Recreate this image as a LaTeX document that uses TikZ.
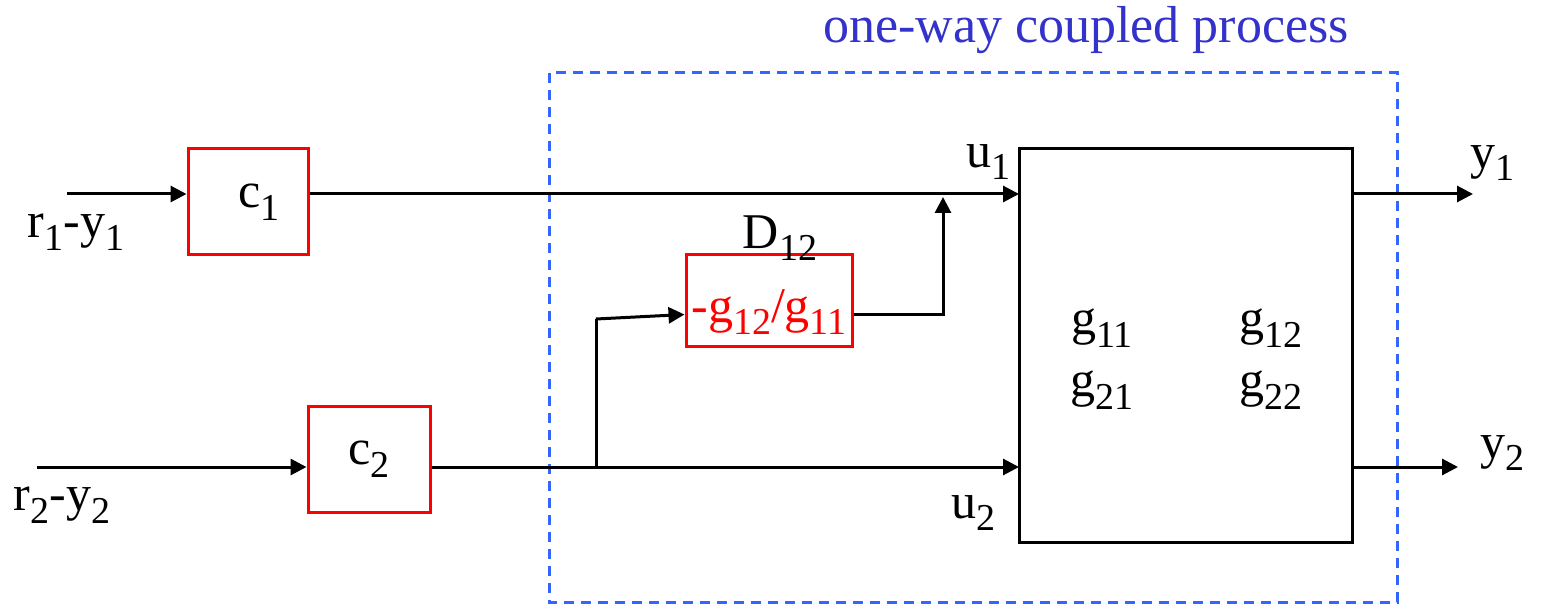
\documentclass[tikz,border=0pt]{standalone}
\usepackage{fontspec}
\setmainfont{Liberation Serif}
\usetikzlibrary{arrows.meta}
\definecolor{boxred}{HTML}{FF0000}
\definecolor{dashblue}{HTML}{3366FF}
\definecolor{titleblue}{HTML}{3333CC}
\newcommand{\sbx}[1]{\raisebox{-0.25em}{\fontsize{19pt}{22pt}\selectfont #1}}
\begin{document}
\begin{tikzpicture}[x=0.5pt,y=-0.5pt,
  every node/.style={font=\fontsize{25pt}{30pt}\selectfont, inner sep=0pt},
  redbox/.style={draw=boxred, line width=1.5pt, rectangle},
  plant/.style={draw=black, line width=1.5pt, rectangle},
  wire/.style={draw=black, line width=1.5pt},
  arr/.style={wire, -{Triangle[length=8pt,width=8pt]}},
  txt/.style={text=black},
  redtxt/.style={text=boxred},
  procbox/.style={draw=dashblue, line width=1.5pt, dash pattern=on 5pt off 3.5pt}
]
\useasboundingbox (0,0) rectangle (1541,604);

% dashed process region
\draw[procbox] (549,73) rectangle (1397,602);
\node[text=titleblue, font=\fontsize{26pt}{30pt}\selectfont] (title) at (1086,30) {one-way coupled process};

% blocks
\node[redbox, minimum width=60pt, minimum height=53pt] (c1) at (248,202) {\hspace*{11pt}c\sbx{1}};
\node[redbox, minimum width=61pt, minimum height=53pt] (c2) at (369,459) {c\sbx{2}};
\node[redbox, minimum width=83pt, minimum height=45.5pt] (d12) at (769,300.5) {};
\node[redtxt] (d12t) at (769,312) {-g\sbx{12}/g\sbx{11}};
\node[txt] (d12l) at (780,238) {D\sbx{12}};
\node[plant, minimum width=166.5pt, minimum height=196.5pt] (G) at (1185.5,345.5) {};

% plant entries
\node[txt] (g11) at (1102,328) {g\sbx{11}};
\node[txt] (g12) at (1271,328) {g\sbx{12}};
\node[txt] (g21) at (1102,390) {g\sbx{21}};
\node[txt] (g22) at (1271,390) {g\sbx{22}};

% signal labels
\node[txt] (r1y1) at (76,232) {r\sbx{1}-y\sbx{1}};
\node[txt] (r2y2) at (62,505) {r\sbx{2}-y\sbx{2}};
\node[txt] (u1) at (988,162) {u\sbx{1}};
\node[txt] (u2) at (973,513) {u\sbx{2}};
\node[txt] (y1) at (1492,163) {y\sbx{1}};
\node[txt] (y2) at (1502,453) {y\sbx{2}};

% coordinates
\coordinate (in1) at (67,194);
\coordinate (in2) at (37,467);
\coordinate (u1in) at (1019,194);
\coordinate (u2in) at (1019,467);
\coordinate (br) at (596,467);
\coordinate (brtop) at (596,319);
\coordinate (sum) at (943,197);
\coordinate (y1out) at (1473,194);
\coordinate (y2out) at (1458,467);
\coordinate (g1) at (1352,194);
\coordinate (g2) at (1352,467);

% connectors
\draw[arr] (in1) -- ([yshift=4pt]c1.west);
\draw[arr] (in2) -- ([yshift=-4pt]c2.west);
\draw[arr] ([yshift=4pt]c1.east) -- (u1in);
\draw[arr] ([yshift=-4pt]c2.east) -- (u2in);
\draw[wire] (br) -- (brtop);
\draw[arr] (brtop) -- ([yshift=-7pt]d12.west);
\draw[arr] ([yshift=-7pt]d12.east) -| (sum);
\draw[arr] (g1) -- (y1out);
\draw[arr] (g2) -- (y2out);
\end{tikzpicture}
\end{document}
